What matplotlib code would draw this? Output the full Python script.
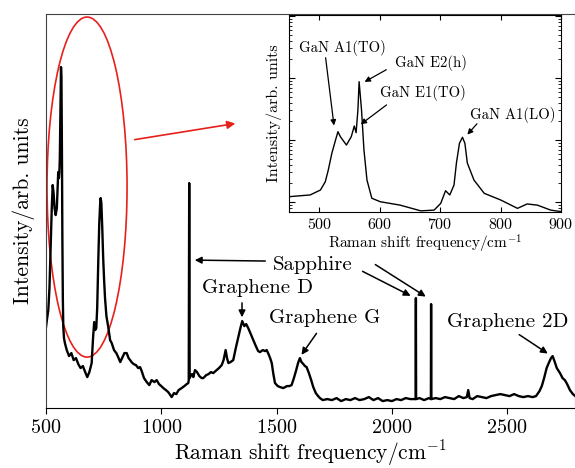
import matplotlib
matplotlib.use('Agg')
import matplotlib.pyplot as plt
from matplotlib.patches import Ellipse

plt.rcParams['font.family'] = ['cmr10', 'DejaVu Serif']
plt.rcParams['mathtext.fontset'] = 'cm'
plt.rcParams['axes.formatter.use_mathtext'] = True

# main spectrum (wavenumber, intensity in arb. units)
main_x = [500, 505, 510, 515, 520, 525, 529, 533, 537, 542, 547, 551, 553, 556, 558, 560, 563, 565, 567, 569,
          571, 573, 575, 578, 582, 590, 600, 610, 620, 630, 640, 650, 660, 670, 679, 688, 698, 704, 709, 713,
          718, 722, 727, 731, 735, 737, 740, 744, 748, 752, 756, 762, 770, 778, 785, 795, 805, 813, 822, 830,
          840, 850, 858, 865, 871, 880, 890, 900, 908, 915, 925, 937, 948, 958, 970, 980, 990, 1000, 1009, 1020,
          1030, 1045, 1055, 1065, 1075, 1088, 1100, 1110, 1117, 1119, 1121, 1123, 1127, 1133, 1139, 1146, 1155, 1165, 1175, 1182,
          1195, 1205, 1215, 1225, 1240, 1250, 1262, 1270, 1279, 1285, 1291, 1300, 1312, 1323, 1334, 1343, 1351, 1360, 1368, 1377,
          1388, 1399, 1410, 1420, 1428, 1440, 1450, 1457, 1465, 1472, 1479, 1486, 1493, 1505, 1515, 1529, 1545, 1555, 1565, 1575,
          1585, 1593, 1601, 1608, 1616, 1623, 1630, 1640, 1650, 1659, 1670, 1680, 1688, 1700, 1720, 1740, 1760, 1780, 1800, 1820,
          1840, 1860, 1880, 1900, 1920, 1940, 1960, 1980, 2000, 2020, 2040, 2060, 2080, 2100, 2103, 2104, 2105, 2120, 2140, 2160,
          2169, 2170, 2171, 2190, 2210, 2230, 2250, 2270, 2290, 2310, 2325, 2331, 2337, 2350, 2370, 2390, 2410, 2430, 2450, 2470,
          2490, 2510, 2530, 2550, 2570, 2590, 2610, 2625, 2640, 2650, 2660, 2671, 2680, 2690, 2697, 2705, 2715, 2729, 2740, 2750,
          2760, 2772, 2785, 2795]
main_y = [81, 90, 98, 120, 160, 200, 223, 215, 200, 193, 200, 225, 236, 230, 236, 250, 300, 341, 330, 260,
          170, 110, 81, 70, 65, 58, 52, 55, 48, 50, 44, 40, 42, 36, 31, 36, 45, 70, 86, 78,
          80, 100, 150, 185, 205, 210, 205, 180, 150, 128, 110, 92, 81, 68, 65, 58, 55, 51, 46, 50,
          55, 55, 50, 48, 46, 44, 43, 40, 41, 37, 30, 26, 23, 28, 26, 28, 24, 22, 20, 18,
          16, 11, 15, 14, 18, 20, 22, 24, 25, 28, 225, 30, 32, 34, 31, 38, 36, 32, 30, 30,
          33, 34, 36, 35, 38, 40, 43, 48, 58, 50, 45, 46, 48, 60, 71, 80, 87, 82, 84, 80,
          74, 68, 62, 57, 56, 58, 57, 58, 54, 50, 45, 34, 25, 22, 21, 20, 22, 22, 23, 30,
          38, 45, 50, 46, 44, 42, 41, 35, 28, 21, 15, 12, 10, 8, 9, 8, 10, 7, 9, 8,
          10, 8, 9, 11, 8, 10, 7, 8, 7, 9, 8, 10, 9, 9, 9, 110, 9, 10, 8, 10,
          9, 104, 9, 10, 9, 11, 10, 9, 12, 10, 11, 18, 10, 9, 12, 11, 10, 12, 13, 14,
          13, 12, 14, 12, 11, 12, 11, 12, 17, 22, 30, 40, 45, 50, 52, 47, 40, 35, 30, 28,
          24, 18, 14, 12]

# inset spectrum (GaN region, log scale)
inset_x = [451, 485, 502, 510, 515, 521, 527, 531, 535, 545, 553, 558, 561, 564, 566, 570, 574, 579, 587, 601,
           634, 668, 690, 701, 709, 716, 723, 727, 732, 737, 741, 745, 756, 773, 800, 828, 844, 861, 883, 900]
inset_y = [122, 130, 156, 212, 328, 617, 1000, 1361, 1130, 830, 1130, 1682, 1312, 3048, 8716, 3048, 690, 226, 115, 101,
           89, 72, 74, 95, 152, 130, 188, 426, 885, 1106, 885, 426, 226, 138, 108, 79, 93, 89, 74, 70]

main_ticks = [500, 1000, 1500, 2000, 2500]
inset_ticks = [500, 600, 700, 800, 900]
xlabel = 'Raman shift frequency/cm$^{-1}$'
ylabel = 'Intensity/arb. units'

fig = plt.figure(figsize=(5.75, 4.68), dpi=100)
ax = fig.add_axes([0.080, 0.128, 0.92, 0.842])
ax.plot(main_x, main_y, color='black', lw=1.7)
ax.set_xlim(500, 2794)
ax.set_ylim(0, 394)
ax.set_xticks(main_ticks)
ax.set_yticks([])
ax.tick_params(axis='x', direction='out', labelsize=14.5, length=4)
ax.set_xlabel(xlabel, fontsize=15.5, labelpad=1)
ax.set_ylabel(ylabel, fontsize=15.5, labelpad=8)
for s in ax.spines.values():
    s.set_color('#444444')
ax.spines['bottom'].set_color('black')

# red ellipse + arrow
ax.add_patch(Ellipse((678, 221), 347, 340, fill=False, edgecolor='#e8201c', lw=1.2))
ax.annotate('', xy=(1333, 285), xytext=(873, 268),
            arrowprops=dict(arrowstyle='-|>', color='#e8201c', lw=1.2, mutation_scale=12))

ap = dict(arrowstyle='-|>', color='black', lw=1.1, mutation_scale=10)
fs = 15
ax.text(1658, 143, 'Sapphire', fontsize=fs, ha='center', va='center')
ax.annotate('', xy=(1133, 148), xytext=(1463, 147), arrowprops=ap)
ax.annotate('', xy=(2092, 111), xytext=(1862, 138), arrowprops=ap)
ax.annotate('', xy=(2157, 110), xytext=(1918, 145), arrowprops=ap)
ax.text(1419, 120, 'Graphene D', fontsize=fs, ha='center', va='center')
ax.annotate('', xy=(1350, 88), xytext=(1350, 108), arrowprops=ap)
ax.text(1710, 90, 'Graphene G', fontsize=fs, ha='center', va='center')
ax.annotate('', xy=(1601, 51), xytext=(1680, 77), arrowprops=ap)
ax.text(2503, 86, 'Graphene 2D', fontsize=fs, ha='center', va='center')
ax.annotate('', xy=(2686, 53), xytext=(2542, 75), arrowprops=ap)

# inset
ins = fig.add_axes([289/575, 1-212/468, 272/575, 197/468])
ins.plot(inset_x, inset_y, color='black', lw=1.0)
ins.set_yscale('log')
ins.set_xlim(450, 900)
ins.set_ylim(69, 103700)
ins.set_xticks(inset_ticks)
ins.tick_params(axis='both', which='both', direction='in', top=True, right=True, labelsize=11.5)
ins.tick_params(axis='y', which='both', labelleft=False)
ins.tick_params(axis='y', which='major', length=4)
ins.tick_params(axis='y', which='minor', length=2)
ins.set_xlabel(xlabel, fontsize=11, labelpad=1)
ins.set_ylabel(ylabel, fontsize=11.5, labelpad=5)

ap2 = dict(arrowstyle='-|>', color='black', lw=0.9, mutation_scale=8)
fs2 = 10.6
ins.text(538, 30100, 'GaN A1(TO)', fontsize=fs2, ha='center', va='center')
ins.annotate('', xy=(525, 1545), xytext=(510, 23500), arrowprops=ap2)
ins.text(684, 17260, 'GaN E2(h)', fontsize=fs2, ha='center', va='center')
ins.annotate('', xy=(571, 8220), xytext=(615, 14300), arrowprops=ap2)
ins.text(672, 5660, 'GaN E1(TO)', fontsize=fs2, ha='center', va='center')
ins.annotate('', xy=(565, 1682), xytext=(615, 3910), arrowprops=ap2)
ins.text(820, 2530, 'GaN A1(LO)', fontsize=fs2, ha='center', va='center')
ins.annotate('', xy=(742, 1130), xytext=(764, 1972), arrowprops=ap2)

fig.savefig('out.png', dpi=100)
